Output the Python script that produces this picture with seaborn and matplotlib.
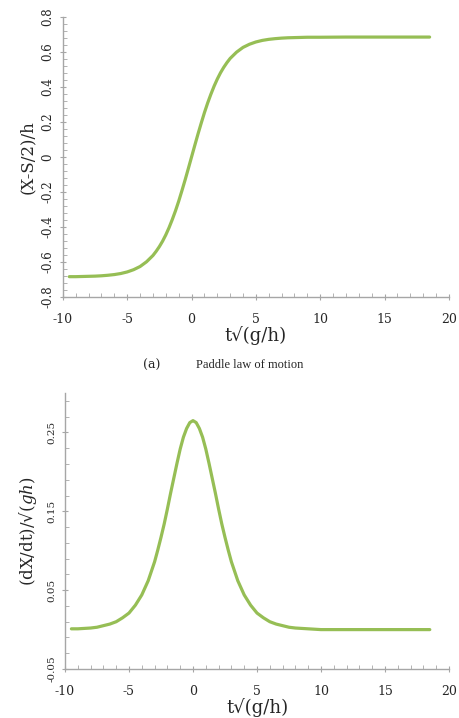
import numpy as np
import pandas as pd
import matplotlib.pyplot as plt
import seaborn as sns
from matplotlib.ticker import MultipleLocator, FixedLocator

sns.set_theme(style='white')
plt.rcParams['font.family'] = ['DejaVu Serif', 'DejaVu Sans']
plt.rcParams['mathtext.fontset'] = 'dejavuserif'
plt.rcParams['axes.unicode_minus'] = False

# Values (time axis in t*sqrt(g/h))
t = [-9.5, -9, -8, -7.5, -7, -6.5, -6, -5.5, -5, -4.5, -4, -3.5, -3, -2.75, -2.5, -2.25, -2,
     -1.75, -1.5, -1.25, -1, -0.75, -0.5, -0.25,
     0, 0.25, 0.5, 0.75, 1, 1.25, 1.5, 1.75, 2, 2.25, 2.5, 2.75, 3, 3.5, 4, 4.5, 5, 5.5, 6,
     6.5, 7, 7.5, 8, 9, 10, 12, 14, 16, 18.5]
# paddle displacement (X-S/2)/h
disp = [-0.684, -0.684, -0.682, -0.681, -0.679, -0.676, -0.672, -0.666, -0.657, -0.644, -0.626,
        -0.599, -0.563, -0.539, -0.512, -0.481, -0.445, -0.404, -0.358, -0.308, -0.253,
        -0.193, -0.131, -0.066,
        0.0, 0.066, 0.131, 0.193, 0.253, 0.308, 0.358, 0.404, 0.445, 0.481, 0.512, 0.539,
        0.563, 0.599, 0.626, 0.644, 0.657, 0.666, 0.672,
        0.676, 0.679, 0.681, 0.682, 0.684, 0.684, 0.685, 0.685, 0.685, 0.685]
# paddle velocity (dX/dt)/sqrt(gh)
vel = [0.001, 0.001, 0.002, 0.003, 0.005, 0.007, 0.010, 0.015, 0.021, 0.031, 0.044, 0.062,
       0.086, 0.101, 0.117, 0.134, 0.153, 0.173, 0.192, 0.211, 0.229, 0.244, 0.255, 0.2625,
       0.265, 0.2625, 0.255, 0.244, 0.229, 0.211, 0.192, 0.173, 0.153, 0.134, 0.117, 0.101,
       0.086, 0.062, 0.044, 0.031, 0.021, 0.015, 0.010,
       0.007, 0.005, 0.003, 0.002, 0.001, 0.0, 0.0, 0.0, 0.0, 0.0]

df = pd.DataFrame({'t': t, 'disp': disp, 'vel': vel})
green = '#96be55'
grey = '#a6a6a6'

fig = plt.figure(figsize=(4.59, 7.18), dpi=100)
ax1 = fig.add_axes([0.137, 0.5864, 0.841, 0.390])
ax2 = fig.add_axes([0.1416, 0.0682, 0.8366, 0.3844])


def style_axes(ax):
    for s in ['top', 'right']:
        ax.spines[s].set_visible(False)
    for s in ['left', 'bottom']:
        ax.spines[s].set_color(grey)
        ax.spines[s].set_linewidth(1.0)
    ax.tick_params(which='major', direction='inout', length=5, width=0.8, color=grey,
                   left=True, bottom=True)
    ax.tick_params(which='minor', direction='in', length=3, width=0.6, color=grey,
                   left=True, bottom=True)
    ax.tick_params(axis='x', pad=9, labelsize=9)
    ax.grid(False)
    ax.set_xlim(-10, 20)
    ax.xaxis.set_major_locator(MultipleLocator(5))
    ax.xaxis.set_minor_locator(MultipleLocator(1))
    ax.set_xlabel('t√(g/h)', fontsize=13, labelpad=0)


# (a) displacement
sns.lineplot(data=df, x='t', y='disp', ax=ax1, color=green, linewidth=2.3)
style_axes(ax1)
ax1.set_ylim(-0.8, 0.8)
ax1.yaxis.set_minor_locator(MultipleLocator(0.04))
ax1.set_yticks(np.round(np.arange(-0.8, 0.81, 0.2), 1))
ax1.set_yticklabels(['-0.8', '-0.6', '-0.4', '-0.2', '0', '0.2', '0.4', '0.6', '0.8'],
                    rotation=90, va='center', fontsize=8.5)
ax1.set_ylabel('(X-S/2)/h', fontsize=12, labelpad=4)

fig.text(0.33, 0.491, '(a)', fontsize=9, ha='center', va='center')
fig.text(0.545, 0.491, 'Paddle law of motion', fontsize=9, ha='center', va='center',
         family=['Liberation Serif', 'DejaVu Serif'])

# (b) velocity
sns.lineplot(data=df, x='t', y='vel', ax=ax2, color=green, linewidth=2.3)
style_axes(ax2)
ax2.set_ylim(-0.05, 0.3)
ax2.yaxis.set_major_locator(FixedLocator([-0.05, 0.05, 0.15, 0.25]))
ax2.yaxis.set_minor_locator(FixedLocator(np.round(np.arange(-0.05, 0.3, 0.02), 2)))
ax2.set_yticklabels(['-0.05', '0.05', '0.15', '0.25'], rotation=90, va='center', fontsize=7.5)
ax2.set_ylabel(r'(dX/dt)/√$(gh)$', fontsize=12, labelpad=6)

fig.savefig('out.png', dpi=100)
